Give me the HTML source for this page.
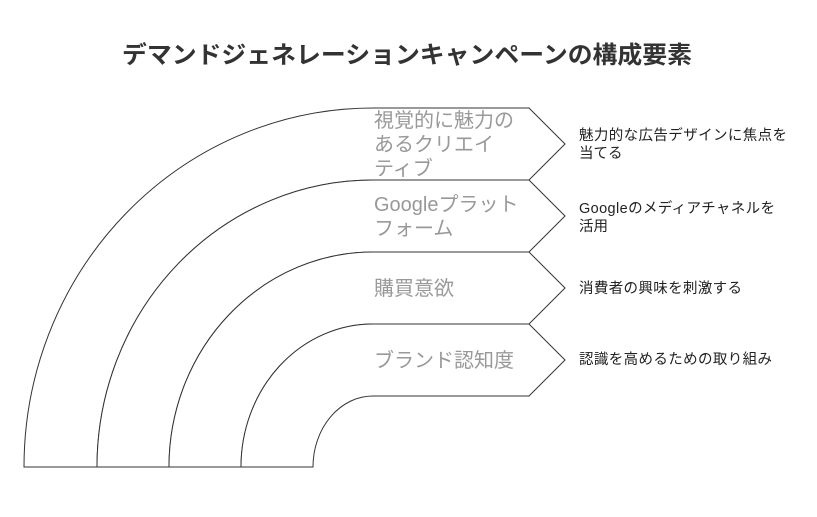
<!DOCTYPE html>
<html><head><meta charset="utf-8"><style>
body{margin:0;background:#fff;}
svg{display:block;}
</style></head><body>
<svg width="817" height="517" viewBox="0 0 817 517" xmlns="http://www.w3.org/2000/svg" font-family="'Liberation Sans','Noto Sans CJK JP',sans-serif">
<rect width="817" height="517" fill="#fff"/>
<text x="122" y="63" textLength="570" lengthAdjust="spacingAndGlyphs" font-size="24" font-weight="bold" fill="#333">デマンドジェネレーションキャンペーンの構成要素</text>
<g fill="#fff" stroke="#333" stroke-width="1">
<path d="M24,467 A349,359 0 0 1 373,108 L529,108 L565,144 L529,180 L373,180 A276,287 0 0 0 97,467 Z"/>
<path d="M97,467 A276,287 0 0 1 373,180 L529,180 L565,216 L529,252 L373,252 A204,215 0 0 0 169,467 Z"/>
<path d="M169,467 A204,215 0 0 1 373,252 L529,252 L565,288 L529,324 L373,324 A132,143 0 0 0 241,467 Z"/>
<path d="M241,467 A132,143 0 0 1 373,324 L529,324 L565,360 L529,396 L373,396 A60,71 0 0 0 313,467 Z"/>
</g>
<g font-size="20" fill="#999">
<text x="374" y="127">視覚的に魅力の</text>
<text x="374" y="151">あるクリエイ</text>
<text x="374" y="175">ティブ</text>
<text x="374" y="211">Googleプラット</text>
<text x="374" y="235">フォーム</text>
<text x="374" y="295">購買意欲</text>
<text x="374" y="367">ブランド認知度</text>
</g>
<g font-size="14.5" fill="#222" lengthAdjust="spacingAndGlyphs">
<text x="579" y="140" textLength="208">魅力的な広告デザインに焦点を</text>
<text x="579" y="158">当てる</text>
<text x="579" y="213" textLength="196">Googleのメディアチャネルを</text>
<text x="579" y="231">活用</text>
<text x="579" y="293" textLength="163">消費者の興味を刺激する</text>
<text x="579" y="364" textLength="193">認識を高めるための取り組み</text>
</g>
</svg>
</body></html>
